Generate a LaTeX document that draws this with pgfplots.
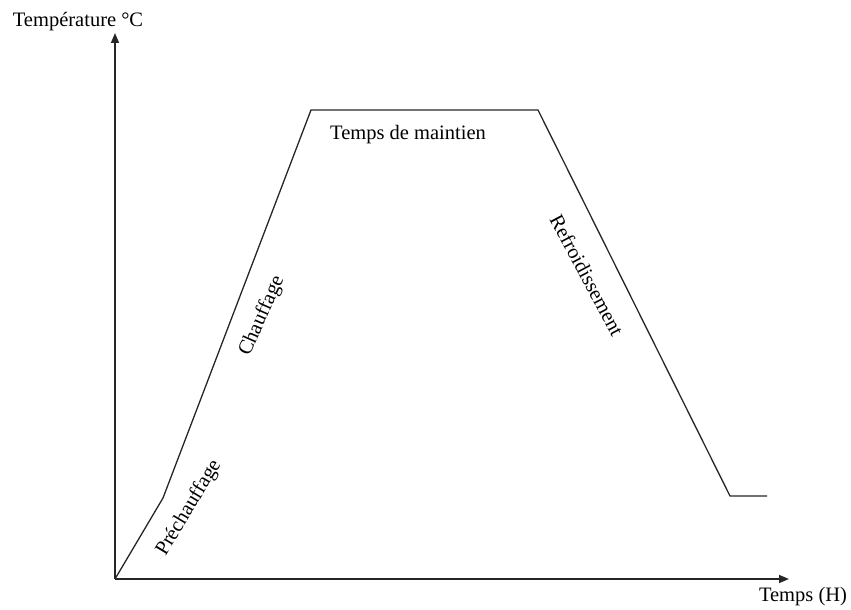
\documentclass[border=0pt]{standalone}
\usepackage{pgfplots}
\pgfplotsset{compat=1.18}
\usepackage{fontspec}
\setmainfont{Liberation Serif}
\usetikzlibrary{arrows.meta}

\begin{document}
\begin{tikzpicture}
\begin{axis}[
  scale only axis,
  x=1pt, y=1pt,
  xmin=0, xmax=674,
  ymin=0, ymax=546,
  axis lines=left,
  axis line style={line width=1.5pt, black!85, -{Triangle[length=10pt,width=8pt]}},
  ticks=none,
  clip=false,
  font=\fontsize{20.5}{24}\selectfont,
]
% heat-treatment cycle: preheat, heat, hold, cool
\addplot[line width=1.3pt, black!85, mark=none] coordinates {
  (0,0) (48,81) (196,469) (423,469) (615,83) (652,83)
};

% fixed frame around the drawing
\path (axis cs:-115,-30) rectangle (axis cs:736,579);

\node at (axis cs:-37,557) {Température °C};
\node at (axis cs:688,-18) {Temps (H)};
\node at (axis cs:293,444) {Temps de maintien};
\node[rotate=59] at (axis cs:74,71) {Préchauffage};
\node[rotate=66] at (axis cs:147,263) {Chauffage};
\node[rotate=-62] at (axis cs:472,304) {Refroidissement};
\end{axis}
\end{tikzpicture}
\end{document}
